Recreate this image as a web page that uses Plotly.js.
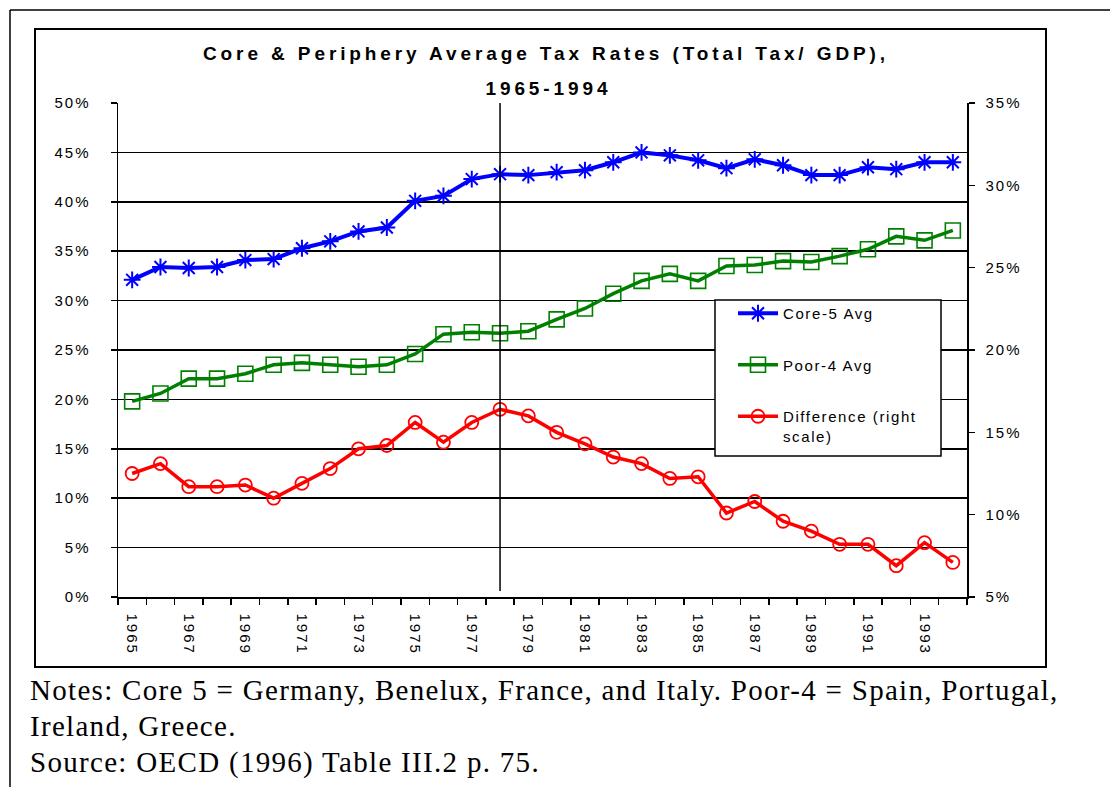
<!DOCTYPE html>
<html>
<head>
<meta charset="utf-8">
<script src="https://cdn.plot.ly/plotly-3.0.1.min.js"></script>
<style>
  html, body { margin: 0; padding: 0; background: #fff; }
  #chart { width: 1110px; height: 787px; }
  .gtitle, .annotation[data-index="0"] .annotation-text { letter-spacing: 3.9px; }
  .annotation[data-index="1"] .annotation-text,
  .annotation[data-index="2"] .annotation-text,
  .annotation[data-index="3"] .annotation-text { letter-spacing: 1.3px; }
  .xtick text, .ytick text, .y2tick text { letter-spacing: 2px; }
  .legendtext { letter-spacing: 1.6px; }
</style>
</head>
<body>
<div id="chart"></div>
<script>
// ---- data ----
var years = [1965,1966,1967,1968,1969,1970,1971,1972,1973,1974,1975,1976,1977,1978,1979,
             1980,1981,1982,1983,1984,1985,1986,1987,1988,1989,1990,1991,1992,1993,1994];
var core5 = [32.1,33.4,33.3,33.4,34.1,34.2,35.3,36.0,37.0,37.4,40.1,40.6,42.3,42.8,42.7,
             43.0,43.2,44.0,45.0,44.7,44.2,43.4,44.3,43.7,42.7,42.7,43.5,43.3,44.0,44.0];
var poor4 = [19.8,20.6,22.1,22.1,22.6,23.5,23.7,23.5,23.3,23.5,24.6,26.6,26.8,26.7,26.9,
             28.1,29.2,30.7,32.0,32.7,32.0,33.5,33.6,34.0,33.9,34.5,35.2,36.5,36.1,37.1];
var difference = [12.5,13.1,11.7,11.7,11.8,11.0,11.9,12.8,14.0,14.2,15.6,14.4,15.6,16.4,16.0,
                  15.0,14.3,13.5,13.1,12.2,12.3,10.1,10.8,9.6,9.0,8.2,8.2,6.9,8.3,7.1];
var seriesNames = ["Core-5 Avg", "Poor-4 Avg", "Difference (right<br>scale)"];
var xTickVals = [1965,1967,1969,1971,1973,1975,1977,1979,1981,1983,1985,1987,1989,1991,1993];
var xTickText = ["1965","1967","1969","1971","1973","1975","1977","1979","1981","1983","1985","1987","1989","1991","1993"];
var markerYear = 1978;
var titleLine1 = "Core &amp; Periphery Average Tax Rates (Total Tax/ GDP),";
var titleLine2 = "1965-1994";
var notes = [
  "Notes: Core 5 = Germany, Benelux, France, and Italy. Poor-4 = Spain, Portugal,",
  "Ireland, Greece.",
  "Source: OECD (1996) Table III.2 p. 75."
];

// ---- layout geometry (pixels) ----
var W = 1110, H = 787, L = 118, R = 967, T = 103, B = 597;
var pw = R - L, ph = B - T;
function fx(x) { return (x - L) / pw; }
function fy(y) { return (B - y) / ph; }

var sansFont = "Arial, 'Liberation Sans', sans-serif";
var serifFont = "'Times New Roman', 'Liberation Serif', serif";

var traces = [
  { x: years, y: core5, name: seriesNames[0], type: "scatter", mode: "lines+markers",
    legendgroup: "a", yaxis: "y",
    line: { color: "#0000FF", width: 4 },
    marker: { symbol: "asterisk-open", size: 14, color: "#0000FF", line: { color: "#0000FF", width: 2 } } },
  { x: years, y: poor4, name: seriesNames[1], type: "scatter", mode: "lines+markers",
    legendgroup: "b", yaxis: "y",
    line: { color: "#008000", width: 3.5 },
    marker: { symbol: "square-open", size: 15, color: "#008000", line: { color: "#008000", width: 1.6 } } },
  { x: years, y: difference, name: seriesNames[2], type: "scatter", mode: "lines+markers",
    legendgroup: "c", yaxis: "y2",
    line: { color: "#FF0000", width: 3.5 },
    marker: { symbol: "circle-open", size: 13, color: "#FF0000", line: { color: "#FF0000", width: 1.8 } } }
];

var notesAnn = notes.map(function (t, i) {
  return { text: t, xref: "paper", yref: "paper", x: fx(28), y: fy(690 + i * 36),
           xanchor: "left", yanchor: "middle", showarrow: false, align: "left",
           font: { family: serifFont, size: 29, color: "#000" } };
});

var layout = {
  width: W, height: H,
  margin: { l: L, r: W - R, t: T, b: H - B, pad: 0 },
  paper_bgcolor: "#fff", plot_bgcolor: "#fff",
  showlegend: true,
  title: { text: titleLine1, x: fx(546), xref: "paper", xanchor: "center",
           y: 1 - 53 / H, yref: "container", yanchor: "middle",
           font: { family: sansFont, size: 19, color: "#000", weight: "bold" } },
  font: { family: sansFont, size: 15, color: "#000" },
  xaxis: {
    type: "linear", range: [years[0] - 0.5, years[years.length - 1] + 0.5],
    tickvals: xTickVals, ticktext: xTickText, tickangle: 90, ticks: "",
    ticklabelstandoff: 12,
    showline: true, linecolor: "#000", linewidth: 1.5, showgrid: false, zeroline: false,
    minor: { ticks: "outside", ticklen: 6, tickwidth: 1.5, tickcolor: "#000",
             tick0: years[0] - 0.5, dtick: 1, showgrid: false },
    tickfont: { family: sansFont, size: 15, color: "#000" }
  },
  yaxis: {
    range: [0, 50], dtick: 5, ticksuffix: "%", ticks: "outside", ticklen: 6, tickwidth: 1.5,
    tickcolor: "#000", ticklabelstandoff: 17,
    showline: true, linecolor: "#000", linewidth: 1.5,
    showgrid: true, gridcolor: "#000", gridwidth: 1.5, zeroline: false,
    tickfont: { family: sansFont, size: 15, color: "#000" }
  },
  yaxis2: {
    overlaying: "y", side: "right", range: [5, 35], dtick: 5, ticksuffix: "%",
    ticks: "outside", ticklen: 6, tickwidth: 1.5, tickcolor: "#000", ticklabelstandoff: 8,
    showline: true, linecolor: "#000", linewidth: 1.5, showgrid: false, zeroline: false,
    tickfont: { family: sansFont, size: 15, color: "#000" }
  },
  legend: {
    x: fx(733), xanchor: "left", xref: "paper",
    y: fy(297), yanchor: "top", yref: "paper",
    bgcolor: "rgba(0,0,0,0)", borderwidth: 0,
    itemwidth: 40, tracegroupgap: 29, valign: "top", traceorder: "grouped",
    font: { family: sansFont, size: 15, color: "#000" }
  },
  shapes: [
    // outer frame (top + left lines)
    { type: "line", xref: "paper", yref: "paper", x0: fx(10), x1: fx(W), y0: fy(10), y1: fy(10),
      line: { color: "#000", width: 1.5 } },
    { type: "line", xref: "paper", yref: "paper", x0: fx(10), x1: fx(10), y0: fy(10), y1: fy(H),
      line: { color: "#000", width: 1.5 } },
    // inner chart border
    { type: "rect", xref: "paper", yref: "paper", x0: fx(35), x1: fx(1046), y0: fy(29), y1: fy(667),
      line: { color: "#000", width: 2 } },
    // legend box
    { type: "rect", xref: "paper", yref: "paper", x0: fx(715), x1: fx(941), y0: fy(300), y1: fy(456),
      fillcolor: "#fff", line: { color: "#000", width: 1.5 }, layer: "above" },
    // vertical marker line
    { type: "line", xref: "x", yref: "paper", x0: markerYear, x1: markerYear, y0: fy(591), y1: 1,
      line: { color: "#000", width: 1.5 } }
  ],
  annotations: [
    { text: titleLine2, xref: "paper", yref: "paper", x: fx(548), y: fy(88), xanchor: "center",
      yanchor: "middle", showarrow: false,
      font: { family: sansFont, size: 19, color: "#000", weight: "bold" } }
  ].concat(notesAnn)
};

Plotly.newPlot("chart", traces, layout, { displayModeBar: false, staticPlot: true });
</script>
</body>
</html>
